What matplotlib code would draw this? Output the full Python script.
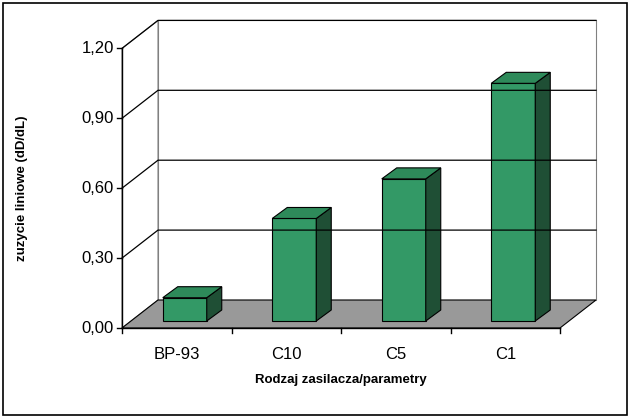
import matplotlib
matplotlib.use("Agg")
import matplotlib.pyplot as plt
from matplotlib.patches import Polygon, Rectangle

categories = ["BP-93", "C10", "C5", "C1"]
values = [0.10, 0.44, 0.61, 1.02]
yticks = [0.0, 0.3, 0.6, 0.9, 1.2]
ytick_labels = ["0,00", "0,30", "0,60", "0,90", "1,20"]

W, H = 631, 419
x0, x1 = 122, 560          # front floor edge
y0 = 328                   # value 0 at front
scale = 233.0              # px per unit
dx, dy = 36, -28           # depth offset
bw = 44                    # bar front width
bdx, bdy = 9, -7           # bar front inset into floor
bdep_x, bdep_y = 15, -11   # bar depth

def vy(v):
    return y0 - v * scale

fig = plt.figure(figsize=(W / 100, H / 100), dpi=100)
ax = fig.add_axes([0, 0, 1, 1])
ax.set_xlim(0, W)
ax.set_ylim(H, 0)
ax.axis("off")

ax.add_patch(Rectangle((3, 3), 624, 412, fill=False, ec="black", lw=1.2))

top = vy(1.2)
# walls
ax.add_patch(Polygon([(x0 + dx, y0 + dy), (x1 + dx, y0 + dy), (x1 + dx, top + dy), (x0 + dx, top + dy)],
                     closed=True, fc="white", ec="#808080", lw=0.8))
ax.add_patch(Polygon([(x0, y0), (x0 + dx, y0 + dy), (x0 + dx, top + dy), (x0, top)],
                     closed=True, fc="white", ec="#808080", lw=0.8))
# floor
ax.add_patch(Polygon([(x0, y0), (x1, y0), (x1 + dx, y0 + dy), (x0 + dx, y0 + dy)],
                     closed=True, fc="#999999", ec="black", lw=0.8))
# gridlines
for t in yticks[1:]:
    y = vy(t)
    ax.plot([x0, x0 + dx, x1 + dx], [y, y + dy, y + dy], color="black", lw=0.9)
# y axis
ax.plot([x0, x0], [y0, top], color="black", lw=1)
for t, lab in zip(yticks, ytick_labels):
    ax.plot([x0 - 5, x0], [vy(t), vy(t)], color="black", lw=1)
    ax.text(x0 - 8, vy(t), lab, ha="right", va="center", fontsize=12, family="Liberation Sans")
# x axis
ax.plot([x0, x1], [y0, y0], color="black", lw=1)
step = (x1 - x0) / len(categories)
for i in range(len(categories) + 1):
    ax.plot([x0 + i * step] * 2, [y0, y0 + 5], color="black", lw=1)

for i, (c, v) in enumerate(zip(categories, values)):
    cx = x0 + (i + 0.5) * step
    l = cx - bw / 2 + bdx - 1
    r = l + bw
    b = y0 + bdy
    t = b - v * scale
    ax.add_patch(Polygon([(l, b), (r, b), (r, t), (l, t)], closed=True, fc="#339966", ec="black", lw=0.8))
    ax.add_patch(Polygon([(r, b), (r + bdep_x, b + bdep_y), (r + bdep_x, t + bdep_y), (r, t)],
                         closed=True, fc="#1f4f35", ec="black", lw=0.8))
    ax.add_patch(Polygon([(l, t), (r, t), (r + bdep_x, t + bdep_y), (l + bdep_x, t + bdep_y)],
                         closed=True, fc="#2e8a5a", ec="black", lw=0.8))
    ax.text(cx, y0 + 26, c, ha="center", va="center", fontsize=12, family="Liberation Sans")

ax.text(341, 380, "Rodzaj zasilacza/parametry", ha="center", va="center",
        fontsize=9.5, fontweight="bold", family="Liberation Sans")
ax.text(22, 188, "zuzycie liniowe (dD/dL)", ha="center", va="center", rotation=90,
        fontsize=9.5, fontweight="bold", family="Liberation Sans")

fig.savefig("out.png", dpi=100)
